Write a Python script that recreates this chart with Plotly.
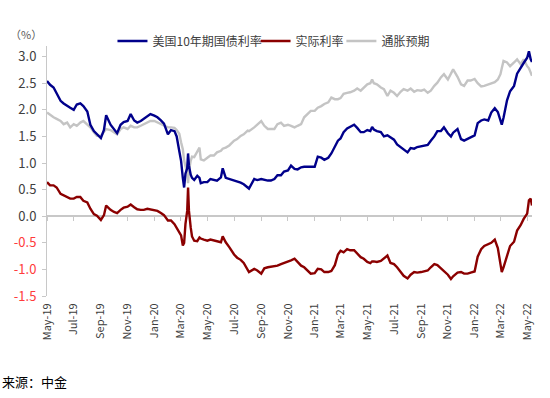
import plotly.graph_objects as go

dates = [
    "2019-05-01", "2019-05-08", "2019-05-16", "2019-05-23", "2019-06-01", "2019-06-08", "2019-06-16", "2019-06-23",
    "2019-07-01", "2019-07-08", "2019-07-16", "2019-07-23", "2019-08-01", "2019-08-08", "2019-08-16", "2019-08-23",
    "2019-09-01", "2019-09-08", "2019-09-13", "2019-09-23", "2019-10-01", "2019-10-08", "2019-10-16", "2019-10-23",
    "2019-11-01", "2019-11-08", "2019-11-16", "2019-11-23", "2019-12-01", "2019-12-08", "2019-12-16", "2019-12-23",
    "2020-01-01", "2020-01-08", "2020-01-16", "2020-01-23", "2020-02-01", "2020-02-08", "2020-02-16", "2020-02-21",
    "2020-02-27", "2020-03-02", "2020-03-06", "2020-03-09", "2020-03-12", "2020-03-16", "2020-03-18", "2020-03-20",
    "2020-03-24", "2020-03-27", "2020-04-01", "2020-04-08", "2020-04-13", "2020-04-16", "2020-04-23", "2020-05-01",
    "2020-05-08", "2020-05-16", "2020-05-23", "2020-06-01", "2020-06-05", "2020-06-12", "2020-06-20", "2020-07-01",
    "2020-07-08", "2020-07-16", "2020-07-23", "2020-08-01", "2020-08-04", "2020-08-16", "2020-08-23", "2020-09-01",
    "2020-09-08", "2020-09-16", "2020-09-23", "2020-10-01", "2020-10-08", "2020-10-16", "2020-10-23", "2020-11-01",
    "2020-11-08", "2020-11-16", "2020-11-23", "2020-12-01", "2020-12-08", "2020-12-16", "2020-12-23", "2021-01-01",
    "2021-01-08", "2021-01-16", "2021-01-23", "2021-02-01", "2021-02-08", "2021-02-16", "2021-02-23", "2021-03-01",
    "2021-03-08", "2021-03-16", "2021-03-23", "2021-04-01", "2021-04-08", "2021-04-16", "2021-04-23", "2021-05-01",
    "2021-05-08", "2021-05-12", "2021-05-16", "2021-05-23", "2021-06-01", "2021-06-08", "2021-06-16", "2021-06-23",
    "2021-07-01", "2021-07-08", "2021-07-16", "2021-07-23", "2021-08-01", "2021-08-08", "2021-08-16", "2021-08-23",
    "2021-09-01", "2021-09-08", "2021-09-16", "2021-09-23", "2021-10-01", "2021-10-08", "2021-10-16", "2021-10-23",
    "2021-11-01", "2021-11-08", "2021-11-13", "2021-11-23", "2021-12-01", "2021-12-08", "2021-12-16", "2021-12-23",
    "2022-01-01", "2022-01-08", "2022-01-16", "2022-01-23", "2022-02-01", "2022-02-08", "2022-02-16", "2022-02-23",
    "2022-03-01", "2022-03-04", "2022-03-08", "2022-03-16", "2022-03-23", "2022-04-01", "2022-04-08", "2022-04-16",
    "2022-04-23", "2022-05-01", "2022-05-05", "2022-05-09", "2022-05-12",
]

us10y = [
    2.54, 2.47, 2.42, 2.32, 2.17, 2.12, 2.07, 2.04,
    2.00, 2.10, 2.12, 2.07, 1.97, 1.72, 1.60, 1.54,
    1.47, 1.62, 1.90, 1.72, 1.64, 1.56, 1.72, 1.77,
    1.79, 1.92, 1.80, 1.76, 1.79, 1.83, 1.88, 1.92,
    1.89, 1.86, 1.80, 1.74, 1.54, 1.62, 1.60, 1.50,
    1.22, 1.04, 0.72, 0.54, 0.80, 0.90, 1.18, 0.95,
    0.78, 0.72, 0.68, 0.76, 0.72, 0.62, 0.64, 0.64,
    0.70, 0.68, 0.67, 0.73, 0.90, 0.72, 0.70, 0.67,
    0.65, 0.63, 0.60, 0.54, 0.52, 0.70, 0.68, 0.70,
    0.68, 0.67, 0.67, 0.70, 0.77, 0.77, 0.84, 0.86,
    0.95, 0.89, 0.88, 0.92, 0.93, 0.93, 0.92, 0.93,
    1.12, 1.10, 1.06, 1.10, 1.18, 1.30, 1.42, 1.46,
    1.58, 1.65, 1.68, 1.72, 1.66, 1.58, 1.58, 1.62,
    1.60, 1.68, 1.63, 1.60, 1.58, 1.50, 1.52, 1.48,
    1.44, 1.35, 1.30, 1.26, 1.20, 1.28, 1.27, 1.30,
    1.32, 1.33, 1.34, 1.42, 1.50, 1.60, 1.60, 1.67,
    1.56, 1.50, 1.57, 1.64, 1.45, 1.42, 1.45, 1.48,
    1.52, 1.75, 1.80, 1.82, 1.80, 1.95, 2.03, 1.96,
    1.82, 1.72, 1.85, 2.18, 2.35, 2.45, 2.68, 2.80,
    2.88, 2.98, 3.10, 2.95, 2.90,
]

real_rate = [
    0.64, 0.58, 0.58, 0.54, 0.42, 0.39, 0.36, 0.33,
    0.33, 0.36, 0.36, 0.29, 0.26, 0.14, 0.04, 0.01,
    -0.07, 0.02, 0.20, 0.12, 0.08, 0.06, 0.12, 0.16,
    0.18, 0.22, 0.17, 0.13, 0.12, 0.12, 0.14, 0.13,
    0.11, 0.10, 0.06, 0.02, -0.08, -0.08, -0.15, -0.22,
    -0.30, -0.36, -0.55, -0.50, -0.15, 0.10, 0.54, 0.10,
    -0.21, -0.38, -0.46, -0.47, -0.40, -0.42, -0.44, -0.46,
    -0.44, -0.46, -0.47, -0.49, -0.38, -0.49, -0.58, -0.72,
    -0.78, -0.82, -0.88, -1.02, -1.05, -0.99, -1.02, -1.08,
    -0.98, -0.96, -0.95, -0.93, -0.93, -0.90, -0.88, -0.86,
    -0.83, -0.80, -0.86, -0.93, -0.96, -1.02, -1.08, -1.07,
    -0.99, -1.00, -1.05, -1.05, -1.03, -0.92, -0.72, -0.65,
    -0.68, -0.62, -0.64, -0.64, -0.71, -0.77, -0.80, -0.86,
    -0.88, -0.85, -0.85, -0.86, -0.84, -0.80, -0.74, -0.88,
    -0.90, -0.96, -1.04, -1.12, -1.17, -1.10, -1.05, -1.06,
    -1.05, -1.03, -1.02, -0.96, -0.90, -0.92, -0.98, -1.04,
    -1.10, -1.18, -1.13, -1.06, -1.05, -1.08, -1.08, -1.06,
    -1.04, -0.76, -0.62, -0.56, -0.52, -0.50, -0.44, -0.60,
    -0.90, -1.05, -0.96, -0.74, -0.56, -0.48, -0.27, -0.17,
    -0.05, 0.05, 0.30, 0.33, 0.20,
]

breakeven = [
    1.95, 1.90, 1.86, 1.83, 1.79, 1.73, 1.76, 1.67,
    1.73, 1.70, 1.76, 1.79, 1.73, 1.67, 1.58, 1.51,
    1.51, 1.58, 1.64, 1.62, 1.58, 1.54, 1.64, 1.67,
    1.64, 1.70, 1.67, 1.67, 1.70, 1.73, 1.76, 1.79,
    1.79, 1.76, 1.73, 1.70, 1.67, 1.67, 1.66, 1.62,
    1.55, 1.39, 1.26, 1.05, 0.95, 0.80, 0.62, 0.85,
    1.04, 1.12, 1.11, 1.22, 1.29, 1.07, 1.05, 1.10,
    1.14, 1.14, 1.20, 1.23, 1.27, 1.29, 1.33, 1.42,
    1.45, 1.51, 1.54, 1.61, 1.60, 1.67, 1.73, 1.79,
    1.70, 1.64, 1.64, 1.64, 1.73, 1.76, 1.70, 1.72,
    1.70, 1.67, 1.70, 1.73, 1.86, 1.92, 1.98, 1.98,
    2.04, 2.07, 2.11, 2.14, 2.23, 2.20, 2.20, 2.22,
    2.30, 2.32, 2.33, 2.36, 2.40, 2.36, 2.42, 2.48,
    2.50, 2.57, 2.50, 2.48, 2.42, 2.39, 2.26, 2.36,
    2.32, 2.26, 2.34, 2.39, 2.36, 2.40, 2.34, 2.37,
    2.36, 2.38, 2.32, 2.36, 2.45, 2.51, 2.61, 2.67,
    2.57, 2.70, 2.76, 2.62, 2.48, 2.45, 2.55, 2.55,
    2.58, 2.50, 2.44, 2.45, 2.48, 2.50, 2.52, 2.57,
    2.67, 2.78, 2.92, 2.89, 2.82, 2.89, 2.95, 2.86,
    2.95, 2.82, 2.78, 2.70, 2.64,
]

tick_dates = [
    "2019-05-01", "2019-07-01", "2019-09-01", "2019-11-01", "2020-01-01", "2020-03-01", "2020-05-01",
    "2020-07-01", "2020-09-01", "2020-11-01", "2021-01-01", "2021-03-01", "2021-05-01", "2021-07-01",
    "2021-09-01", "2021-11-01", "2022-01-01", "2022-03-01", "2022-05-01",
]
tick_labels = [
    "May-19", "Jul-19", "Sep-19", "Nov-19", "Jan-20", "Mar-20", "May-20", "Jul-20", "Sep-20", "Nov-20",
    "Jan-21", "Mar-21", "May-21", "Jul-21", "Sep-21", "Nov-21", "Jan-22", "Mar-22", "May-22",
]
y_ticks = [-1.5, -1.0, -0.5, 0.0, 0.5, 1.0, 1.5, 2.0, 2.5, 3.0]

series_names = ["美国10年期国债利率", "实际利率", "通胀预期"]
colors = ["#00008B", "#8B0000", "#C4C4C4"]

x_range = ["2019-05-01", "2022-05-12"]
y_range = [-1.5, 3.2]

font_family = "Noto Sans CJK SC, Noto Sans, sans-serif"
axis_grey = "#C8C8C8"

fig = go.Figure()
fig.add_trace(go.Scatter(x=dates, y=breakeven, name=series_names[2], mode="lines",
                         line=dict(color=colors[2], width=2.4), legend="legend3"))
fig.add_trace(go.Scatter(x=dates, y=us10y, name=series_names[0], mode="lines",
                         line=dict(color=colors[0], width=2.4), legend="legend"))
fig.add_trace(go.Scatter(x=dates, y=real_rate, name=series_names[1], mode="lines",
                         line=dict(color=colors[1], width=2.4), legend="legend2"))

y_text = [
    (f'<span style="color:#FF3B3B">{v:.1f}</span>' if v < 0 else f"{v:.1f}") for v in y_ticks
]

legend_style = dict(orientation="h", y=1.02, yanchor="middle", xanchor="left",
                    font=dict(size=12, color="#404040"), bgcolor="rgba(0,0,0,0)",
                    itemwidth=30)

fig.update_layout(
    width=550, height=398,
    margin=dict(l=47, r=18, t=46, b=102, autoexpand=False),
    paper_bgcolor="white", plot_bgcolor="white",
    font=dict(family=font_family, size=11, color="#404040"),
    showlegend=True,
    legend=dict(x=0.135, **legend_style),
    legend2=dict(x=0.43, **legend_style),
    legend3=dict(x=0.607, **legend_style),
    # x axis sits on the zero line (line + tick marks); labels pushed to the bottom
    xaxis=dict(range=x_range, anchor="free",
               position=(0 - y_range[0]) / (y_range[1] - y_range[0]),
               tickvals=tick_dates, ticktext=tick_labels, tickangle=-90,
               showline=True, linecolor=axis_grey, linewidth=1.5,
               ticks="outside", ticklen=4, tickwidth=1, tickcolor=axis_grey,
               showgrid=False, zeroline=False, layer="below traces",
               ticklabelstandoff=78, tickfont=dict(size=11, color="#404040")),
    yaxis=dict(range=y_range, tickvals=y_ticks, ticktext=y_text, showline=True,
               linecolor=axis_grey, linewidth=1, ticks="outside", ticklen=4,
               tickcolor=axis_grey, showgrid=False, zeroline=False, ticklabelstandoff=3,
               tickfont=dict(size=13, color="#404040")),
    annotations=[
        dict(text="（%）", xref="paper", yref="paper", x=-0.081, y=1.048,
             xanchor="left", yanchor="middle", showarrow=False,
             font=dict(size=11, color="#595959")),
        dict(text="来源：中金", xref="paper", yref="paper", x=-0.097, y=-0.343,
             xanchor="left", yanchor="middle", showarrow=False,
             font=dict(size=13, color="#000000")),
    ],
)

fig.write_html("out.html", config={"displayModeBar": False},
               post_script="document.body.style.margin='0';")
